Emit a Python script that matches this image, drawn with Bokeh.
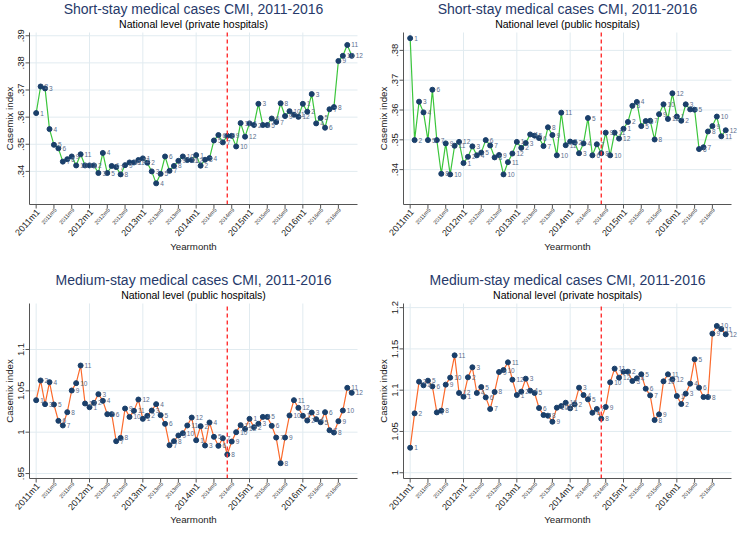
import math
from bokeh.plotting import figure
from bokeh.models import ColumnDataSource, Range1d
from bokeh.layouts import gridplot
from bokeh.embed import file_html
from bokeh.resources import INLINE
from bokeh.core.properties import value

# ---------------- data ----------------
years = [2011, 2012, 2013, 2014, 2015, 2016]
month_numbers = [1, 2, 3, 4, 5, 6, 7, 8, 9, 10, 11, 12]

year_tick_labels = ["2011m1", "2012m1", "2013m1", "2014m1", "2015m1", "2016m1"]
minor_tick_labels = ["2011m5", "2011m9", "2012m5", "2012m9", "2013m5", "2013m9",
                     "2014m5", "2014m9", "2015m5", "2015m9", "2016m5", "2016m9"]
reform_month = "2014m8"

short_private = [
    .3615, .3713, .3706, .3556, .3498, .3485, .3436, .3445, .3455, .3422, .3463, .3422,
    .3422, .3422, .3394, .3468, .3394, .3420, .3416, .3389, .3423, .3433, .3433, .3442,
    .3448, .3432, .3400, .3356, .3391, .3455, .3402, .3420, .3439, .3455, .3442, .3442,
    .3460, .3421, .3443, .3449, .3514, .3534, .3507, .3531, .3531, .3492, .3578, .3528,
    .3577, .3571, .3649, .3571, .3571, .3595, .3582, .3651, .3604, .3622, .3609, .3601,
    .3649, .3620, .3685, .3577, .3597, .3561, .3629, .3637, .3807, .3826, .3866, .3826]

short_public = [
    .3841, .3499, .3628, .3592, .3499, .3668, .3499, .3386, .3488, .3384, .3480, .3493,
    .3422, .3443, .3478, .3448, .3457, .3499, .3481, .3441, .3449, .3384, .3425, .3454,
    .3493, .3473, .3489, .3518, .3514, .3506, .3479, .3542, .3516, .3448, .3591, .3482,
    .3494, .3491, .3455, .3488, .3573, .3448, .3485, .3455, .3524, .3448, .3524, .3504,
    .3537, .3560, .3614, .3627, .3546, .3563, .3564, .3501, .3586, .3619, .3570, .3656,
    .3578, .3564, .3619, .3602, .3601, .3469, .3475, .3528, .3546, .3578, .3512, .3532]

medium_public = [
    1.0387, 1.0625, 1.0339, 1.0605, 1.0335, 1.0137, 1.0081, 1.0242, 1.0504, 1.0593, 1.0806, 1.0347,
    1.0302, 1.0355, 1.0460, 1.0379, 1.0218, 1.0218, .9891, .9931, 1.0286, 1.0185, 1.0258, 1.0395,
    1.0161, 1.0198, 1.0262, 1.0339, 1.0206, 1.0101, .9843, .9891, .9960, .9988, 1.0081, 1.0177,
    .9903, 1.0073, .9839, 1.0117, .9944, .9835, .9927, .9730, .9887, 1.0000, 1.0085, 1.0040,
    1.0161, 1.0060, 1.0101, 1.0185, 1.0185, 1.0077, .9935, .9625, .9935, 1.0202, 1.0387, 1.0294,
    1.0198, 1.0141, 1.0238, 1.0157, 1.0121, 1.0242, 1.0024, .9996, 1.0133, 1.0262, 1.0536, 1.0476]

medium_private = [
    1.0303, 1.0719, 1.1103, 1.1059, 1.1115, 1.1046, 1.0731, 1.0752, 1.1067, 1.1152, 1.1422, 1.0966,
    1.0921, 1.1156, 1.1277, 1.0966, 1.1038, 1.0913, 1.0772, 1.0978, 1.1220, 1.1244, 1.1337, 1.1127,
    1.0941, 1.0982, 1.1139, 1.0994, 1.0966, 1.0784, 1.0699, 1.0691, 1.0618, 1.0788, 1.0808, 1.0848,
    1.0780, 1.0828, 1.1030, 1.0941, 1.0889, 1.0727, 1.0772, 1.0655, 1.0796, 1.1095, 1.1261, 1.1152,
    1.1224, 1.1224, 1.1111, 1.1143, 1.1192, 1.1018, 1.0937, 1.0638, 1.0707, 1.1107, 1.1192, 1.1131,
    1.0929, 1.0832, 1.0958, 1.1079, 1.1374, 1.1030, 1.0917, 1.0917, 1.1685, 1.1778, 1.1741, 1.1677]

yt_short_private = [.34, .35, .36, .37, .38, .39]
yl_short_private = [".34", ".35", ".36", ".37", ".38", ".39"]
yt_short_public = [.34, .35, .36, .37, .38]
yl_short_public = [".34", ".35", ".36", ".37", ".38"]
yt_medium_public = [.95, 1.0, 1.05, 1.1]
yl_medium_public = [".95", "1", "1.05", "1.1"]
yt_medium_private = [1.0, 1.05, 1.1, 1.15, 1.2]
yl_medium_private = ["1", "1.05", "1.1", "1.15", "1.2"]

# ---------------- helpers ----------------
FONT = value("Liberation Sans")
months = [f"{y}m{m}" for y in years for m in month_numbers]
idx = {m: i for i, m in enumerate(months)}
xs = list(range(len(months)))
point_labels = [str(m) for y in years for m in month_numbers]
X0, X1 = -1.5, 72.3          # extent of the plot region in months

GREEN = "#3cc63c"
ORANGE = "#fb6a2c"
NAVY = "#1a3f6a"
TITLE_C = "#26396a"
GRID_C = "#e1ebf0"
AXIS_C = "#555555"
TXT_C = "#222222"


def panel(title, subtitle, vals, line_color, yticks, ylabels, yrange, box):
    W, H, ax_l, ax_r, ax_t, ax_b, title_y, sub_y, xlab_y = box
    ymin, ymax = yrange
    dxpp = (X1 - X0) / (ax_r - ax_l)
    dypp = (ymax - ymin) / (ax_b - ax_t)
    xr = Range1d(X0 - ax_l * dxpp, X1 + (W - ax_r) * dxpp)
    yr = Range1d(ymin - (H - ax_b) * dypp, ymax + ax_t * dypp)
    p = figure(width=W, height=H, output_backend="svg", toolbar_location=None,
               x_range=xr, y_range=yr, x_axis_location=None, y_axis_location=None,
               min_border=0, background_fill_color="white", border_fill_color="white")
    p.outline_line_color = None
    p.xgrid.visible = False
    p.ygrid.visible = False

    year_ticks = [idx[s] for s in year_tick_labels]
    minor_ticks = [idx[s] for s in minor_tick_labels]
    all_ticks = sorted(year_ticks + minor_ticks)
    ny, nt = len(yticks), len(all_ticks)
    xmid = (X0 + X1) / 2

    # grid
    p.segment(x0=[X0] * ny, y0=yticks, x1=[X1] * ny, y1=yticks, line_color=GRID_C, line_width=1)
    p.segment(x0=year_ticks, y0=[ymin] * len(year_ticks), x1=year_ticks,
              y1=[ymax] * len(year_ticks), line_color=GRID_C, line_width=1)

    # data
    src = ColumnDataSource(dict(x=xs, y=vals, lab=point_labels))
    p.line("x", "y", source=src, line_color=line_color, line_width=1.2)
    p.scatter("x", "y", source=src, size=5, fill_color=NAVY, line_color=NAVY)
    p.text("x", "y", text="lab", source=src, x_offset=4, text_baseline="middle",
           text_font_size="6.5px", text_color="#5a6e8e", text_font=FONT)

    # reform marker
    r = idx[reform_month]
    p.segment(x0=[r], y0=[ymin], x1=[r], y1=[ymax], line_color="#ff3333",
              line_dash="4 3", line_width=1.4)

    # axes
    p.segment(x0=[X0], y0=[ymin], x1=[X1], y1=[ymin], line_color=AXIS_C, line_width=1)
    p.segment(x0=[X0], y0=[ymin], x1=[X0], y1=[ymax], line_color=AXIS_C, line_width=1)
    p.segment(x0=all_ticks, y0=[ymin] * nt, x1=all_ticks, y1=[ymin - 4 * dypp] * nt,
              line_color=AXIS_C, line_width=1)
    p.segment(x0=[X0] * ny, y0=yticks, x1=[X0 - 4 * dxpp] * ny, y1=yticks,
              line_color=AXIS_C, line_width=1)

    # tick labels
    p.text(x=[X0] * ny, y=yticks, text=ylabels, angle=math.pi / 2, text_align="center",
           text_baseline="bottom", x_offset=-6, text_font=FONT, text_font_size="9.5px",
           text_color=TXT_C)
    p.text(x=year_ticks, y=[ymin] * len(year_ticks), text=year_tick_labels,
           angle=math.radians(48), text_align="right", text_baseline="middle",
           x_offset=2, y_offset=6, text_font=FONT, text_font_size="9px", text_color=TXT_C)
    p.text(x=minor_ticks, y=[ymin] * len(minor_ticks), text=minor_tick_labels,
           angle=math.radians(48), text_align="right", text_baseline="middle",
           x_offset=1.5, y_offset=4.5, text_font=FONT, text_font_size="5.5px",
           text_color="#333333")

    # axis titles
    p.text(x=[X0], y=[(ymin + ymax) / 2], text=["Casemix index"], angle=math.pi / 2,
           text_align="center", text_baseline="middle", x_offset=-20, text_font=FONT,
           text_font_size="9.7px", text_color=TXT_C)
    p.text(x=[xmid], y=[ymin], text=["Yearmonth"], text_align="center",
           text_baseline="middle", y_offset=xlab_y - ax_b, text_font=FONT,
           text_font_size="9.7px", text_color=TXT_C)

    # titles
    p.text(x=[xmid], y=[ymax], text=[title], text_align="center", text_baseline="middle",
           y_offset=title_y - ax_t, text_font=FONT, text_font_size="14px", text_color=TITLE_C)
    p.text(x=[xmid], y=[ymax], text=[subtitle], text_align="center", text_baseline="middle",
           y_offset=sub_y - ax_t, text_font=FONT, text_font_size="10.5px", text_color="black")
    return p


# figure boxes: width, height, axis left/right/top/bottom, title y, subtitle y, x-title y
BOX_TL = (369, 265, 29, 357, 32, 204, 8, 23, 246)
BOX_TR = (369, 265, 34, 362, 32, 204, 8, 23, 246)
BOX_BL = (369, 261, 29, 357, 38, 213, 14, 29, 254)
BOX_BR = (369, 261, 34, 362, 38, 213, 14, 29, 254)

p1 = panel("Short-stay medical cases CMI, 2011-2016", "National level (private hospitals)",
           short_private, GREEN, yt_short_private, yl_short_private, (0.3278, 0.3912), BOX_TL)
p2 = panel("Short-stay medical cases CMI, 2011-2016", "National level (public hospitals)",
           short_public, GREEN, yt_short_public, yl_short_public, (0.3283, 0.3860), BOX_TR)
p3 = panel("Medium-stay medical cases CMI, 2011-2016", "National level (public hospitals)",
           medium_public, ORANGE, yt_medium_public, yl_medium_public, (0.944, 1.1556), BOX_BL)
p4 = panel("Medium-stay medical cases CMI, 2011-2016", "National level (private hospitals)",
           medium_private, ORANGE, yt_medium_private, yl_medium_private, (0.993, 1.205), BOX_BR)

layout = gridplot([[p1, p2], [p3, p4]], toolbar_location=None)
open("out.html", "w").write(file_html(layout, INLINE))
